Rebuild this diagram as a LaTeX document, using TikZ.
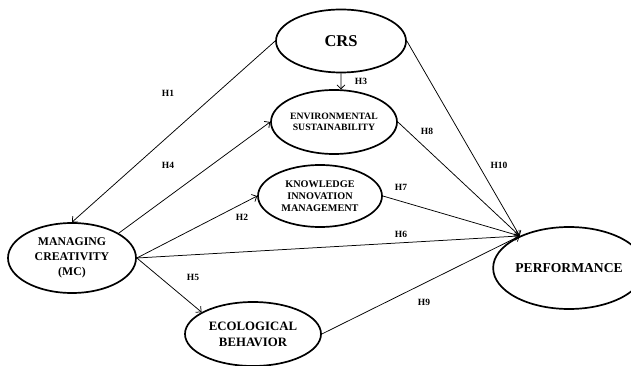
\documentclass[tikz,border=0pt]{standalone}
\usepackage{fontspec}
\setmainfont{Liberation Serif}
\usetikzlibrary{shapes.geometric,arrows.meta}

\begin{document}
\begin{tikzpicture}[x=1pt,y=-1pt,
  construct/.style={draw, ellipse, line width=1.7pt, inner sep=0pt, align=center, font=\bfseries},
  link/.style={-{Straight Barb[length=4pt,width=8pt]}, line width=0.75pt},
  hyp/.style={font=\bfseries\fontsize{9.5}{11}\selectfont}]
\useasboundingbox (0,0) rectangle (631,366);
% constructs
\node[construct, minimum width=130pt, minimum height=63pt, font=\bfseries\fontsize{16.5}{18}\selectfont] (crs) at (341,41) {CRS};
\node[construct, minimum width=126pt, minimum height=64pt, font=\bfseries\fontsize{9.7}{10.5}\selectfont] (env) at (334,122) {ENVIRONMENTAL\\SUSTAINABILITY};
\node[construct, minimum width=124pt, minimum height=62pt, font=\bfseries\fontsize{10.2}{11.7}\selectfont] (kim) at (320,196) {KNOWLEDGE\\INNOVATION\\MANAGEMENT};
\node[construct, minimum width=128pt, minimum height=70pt, font=\bfseries\fontsize{11.8}{15}\selectfont] (mc) at (72,258) {MANAGING\\CREATIVITY\\(MC)};
\node[construct, minimum width=136pt, minimum height=64pt, font=\bfseries\fontsize{12.8}{16}\selectfont] (eco) at (253,334) {ECOLOGICAL\\BEHAVIOR};
\node[construct, minimum width=124pt, minimum height=82pt, font=\bfseries\fontsize{13.6}{16}\selectfont] (perf) at (569,268) {PERFORMANCE};
% hypotheses
\draw[link] (crs.west) -- (mc.north);
\draw[link] (crs.south) -- (env.78);
\draw[link] (mc.28) -- (env.west);
\draw[link] (mc.east) -- (kim.west);
\draw[link] (mc.east) -- (eco.157);
\draw[link] (mc.east) -- (perf.147);
\draw[link] (kim.east) -- (perf.147);
\draw[link] (env.east) -- (perf.147);
\draw[link] (crs.east) -- (perf.147);
\draw[link] (eco.east) -- (perf.147);
% labels
\node[hyp] (h1) at (168,93) {H1};
\node[hyp] (h2) at (242,217) {H2};
\node[hyp] (h3) at (361,81) {H3};
\node[hyp] (h4) at (168,165) {H4};
\node[hyp] (h5) at (193,277) {H5};
\node[hyp] (h6) at (401,234) {H6};
\node[hyp] (h7) at (401,187) {H7};
\node[hyp] (h8) at (427,131) {H8};
\node[hyp] (h9) at (424,302) {H9};
\node[hyp] (h10) at (499,165) {H10};
\end{tikzpicture}
\end{document}
